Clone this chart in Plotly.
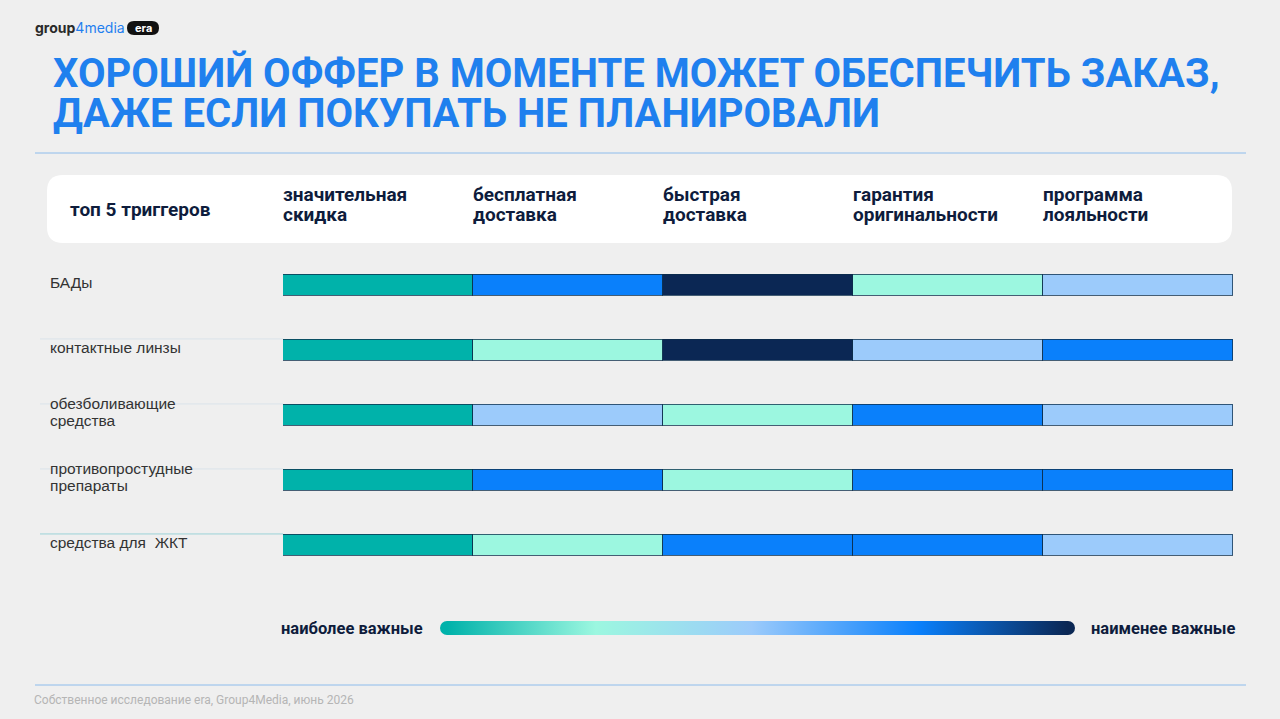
import plotly.graph_objects as go

# ---------------- data ----------------
categories = ["БАДы", "контактные линзы", "обезболивающие<br>средства",
              "противопростудные<br>препараты", "средства для  ЖКТ"]
triggers = ["значительная<br>скидка", "бесплатная<br>доставка", "быстрая<br>доставка",
            "гарантия<br>оригинальности", "программа<br>лояльности"]
# importance level per trigger (1 = most important ... 5 = least important), rows in category order
rank_discount = [1, 1, 1, 1, 1]
rank_free_delivery = [4, 2, 3, 4, 2]
rank_fast_delivery = [5, 5, 2, 2, 4]
rank_guarantee = [2, 3, 4, 4, 4]
rank_loyalty = [3, 4, 3, 4, 3]
ranks = [rank_discount, rank_free_delivery, rank_fast_delivery, rank_guarantee, rank_loyalty]
legend_left = "наиболее важные"
legend_right = "наименее важные"
title_text = "ХОРОШИЙ ОФФЕР В МОМЕНТЕ МОЖЕТ ОБЕСПЕЧИТЬ ЗАКАЗ,<br>ДАЖЕ ЕСЛИ ПОКУПАТЬ НЕ ПЛАНИРОВАЛИ"

# ---------------- style ----------------
W, H = 1280, 719
BG = "#efefef"
level_colors = {1: "#00b2aa", 2: "#9cf7e0", 3: "#9ccbfb", 4: "#0a80fb", 5: "#0b2754"}
NAVY_TXT = "#0e1c3c"
TITLE_BLUE = "#1f80ee"


def px(x):
    return x / W


def py(y):
    return 1 - y / H


def sized(text, size, bold=False):
    """wrap each line in a span with given glyph size (line spacing follows the annotation font size)"""
    parts = text.split("<br>")
    if bold:
        parts = [f"<b>{p}</b>" for p in parts]
    return "<br>".join(f"<span style='font-size:{size}px'>{p}</span>" for p in parts)


fig = go.Figure()

for j, col in enumerate(ranks):
    fig.add_trace(go.Bar(
        y=list(range(len(categories))),
        x=[1] * len(categories),
        orientation="h",
        width=0.31,
        marker=dict(color=[level_colors[r] for r in col],
                    line=dict(color="rgba(12,45,75,0.75)", width=1)),
        hoverinfo="skip",
        showlegend=False,
    ))

# gradient legend via colorbar of a dummy trace
fig.add_trace(go.Scatter(
    x=[None], y=[None], mode="markers", showlegend=False, hoverinfo="skip",
    marker=dict(
        color=[0], cmin=0, cmax=1,
        colorscale=[[0, level_colors[1]], [0.24, level_colors[2]], [0.49, level_colors[3]],
                    [0.76, level_colors[4]], [1, level_colors[5]]],
        showscale=True,
        colorbar=dict(orientation="h", x=px(757.5), xanchor="center", y=py(628), yanchor="middle",
                      len=621, lenmode="pixels", thickness=14, thicknessmode="pixels",
                      outlinewidth=0, showticklabels=False, ticks="", xpad=0, ypad=0),
    ),
))

shapes = []
annotations = []

# header white box (rounded)
x0, x1, y0, y1, r = 47, 1232, 175, 243, 16
path = (f"M {px(x0 + r)},{py(y0)} L {px(x1 - r)},{py(y0)} "
        f"Q {px(x1)},{py(y0)} {px(x1)},{py(y0 + r)} L {px(x1)},{py(y1 - r)} "
        f"Q {px(x1)},{py(y1)} {px(x1 - r)},{py(y1)} L {px(x0 + r)},{py(y1)} "
        f"Q {px(x0)},{py(y1)} {px(x0)},{py(y1 - r)} L {px(x0)},{py(y0 + r)} "
        f"Q {px(x0)},{py(y0)} {px(x0 + r)},{py(y0)} Z")
shapes.append(dict(type="path", path=path, xref="paper", yref="paper",
                   fillcolor="white", line=dict(width=0), layer="below"))

# separator lines
for yl in (153, 685):
    shapes.append(dict(type="line", xref="paper", yref="paper", x0=px(35), x1=px(1246),
                       y0=py(yl), y1=py(yl), line=dict(color="#8dbcec", width=1)))

# faint guide lines near labels
for i, c in zip([1, 2, 3, 4], ["rgba(205,222,232,0.6)", "rgba(205,222,232,0.6)",
                               "rgba(205,222,232,0.6)", "rgba(120,200,205,0.7)"]):
    shapes.append(dict(type="line", xref="paper", yref="y", x0=px(40), x1=px(283),
                       y0=i - 0.17, y1=i - 0.17, line=dict(color=c, width=1), layer="below"))

# rounded ends of gradient legend
for cx, col in ((447, level_colors[1]), (1068, level_colors[5])):
    shapes.append(dict(type="circle", xref="paper", yref="paper",
                       x0=px(cx - 7), x1=px(cx + 7), y0=py(628 + 7), y1=py(628 - 7),
                       fillcolor=col, line=dict(width=0)))

# logo
annotations.append(dict(text="<b>group</b><span style='color:#1f7fef'>4media</span>", x=px(33), y=py(28),
                        xref="paper", yref="paper", xanchor="left", yanchor="middle", showarrow=False,
                        font=dict(family="Inter", size=14, color="#2a2a2a")))
shapes.append(dict(type="path", xref="paper", yref="paper",
                   path=(f"M {px(134)},{py(21)} L {px(152)},{py(21)} Q {px(159)},{py(21)} {px(159)},{py(28)} "
                         f"Q {px(159)},{py(35)} {px(152)},{py(35)} L {px(134)},{py(35)} "
                         f"Q {px(127)},{py(35)} {px(127)},{py(28)} Q {px(127)},{py(21)} {px(134)},{py(21)} Z"),
                   fillcolor="#111111", line=dict(width=0)))
annotations.append(dict(text="<b>era</b>", x=px(143), y=py(28), xref="paper", yref="paper",
                        xanchor="center", yanchor="middle", showarrow=False,
                        font=dict(family="Inter", size=11, color="white")))

# title (line spacing 1.3 * 31 ≈ 40px, glyphs 40px)
annotations.append(dict(
    text=sized(title_text, 40, bold=True), x=px(51), y=py(93), xref="paper", yref="paper",
    xanchor="left", yanchor="middle", align="left", showarrow=False,
    font=dict(family="Roboto", size=31, color=TITLE_BLUE)))

# header texts
annotations.append(dict(text="<b>топ 5 триггеров</b>", x=px(68), y=py(209), xref="paper", yref="paper",
                        xanchor="left", yanchor="middle", showarrow=False,
                        font=dict(family="Roboto", size=19, color=NAVY_TXT)))
for j, t in enumerate(triggers):
    annotations.append(dict(text=sized(t, 19, bold=True), x=j, y=py(205), xref="x", yref="paper",
                            xanchor="left", yanchor="middle", align="left", showarrow=False,
                            xshift=-2, font=dict(family="Roboto", size=15.4, color=NAVY_TXT)))

# row labels
for i, c in enumerate(categories):
    two = "<br>" in c
    annotations.append(dict(text=sized(c, 15.5), x=px(48), y=i, yshift=3,
                            xref="paper", yref="y",
                            xanchor="left", yanchor="middle", align="left", showarrow=False,
                            font=dict(family="Liberation Sans", size=13.1, color="#333333")))

# legend labels
annotations.append(dict(text=f"<b>{legend_left}</b>", x=px(425), y=py(628), xref="paper", yref="paper",
                        xanchor="right", yanchor="middle", showarrow=False,
                        font=dict(family="Roboto", size=16.5, color=NAVY_TXT)))
annotations.append(dict(text=f"<b>{legend_right}</b>", x=px(1089), y=py(628), xref="paper", yref="paper",
                        xanchor="left", yanchor="middle", showarrow=False,
                        font=dict(family="Roboto", size=16.5, color=NAVY_TXT)))

# footer
annotations.append(dict(text="Собственное исследование era, Group4Media, июнь 2026", x=px(32), y=py(700),
                        xref="paper", yref="paper", xanchor="left", yanchor="middle", showarrow=False,
                        font=dict(family="Roboto", size=12, color="#b5b5b5")))

fig.update_layout(
    width=W, height=H,
    margin=dict(l=0, r=0, t=0, b=0),
    paper_bgcolor=BG, plot_bgcolor=BG,
    barmode="stack", bargap=0,
    xaxis=dict(domain=[px(283), px(1233)], range=[0, 5], visible=False, fixedrange=True),
    yaxis=dict(domain=[py(577.5), py(252.5)], range=[4.5, -0.5], visible=False, fixedrange=True),
    shapes=shapes, annotations=annotations,
    showlegend=False,
)

fig.write_html("out.html")
